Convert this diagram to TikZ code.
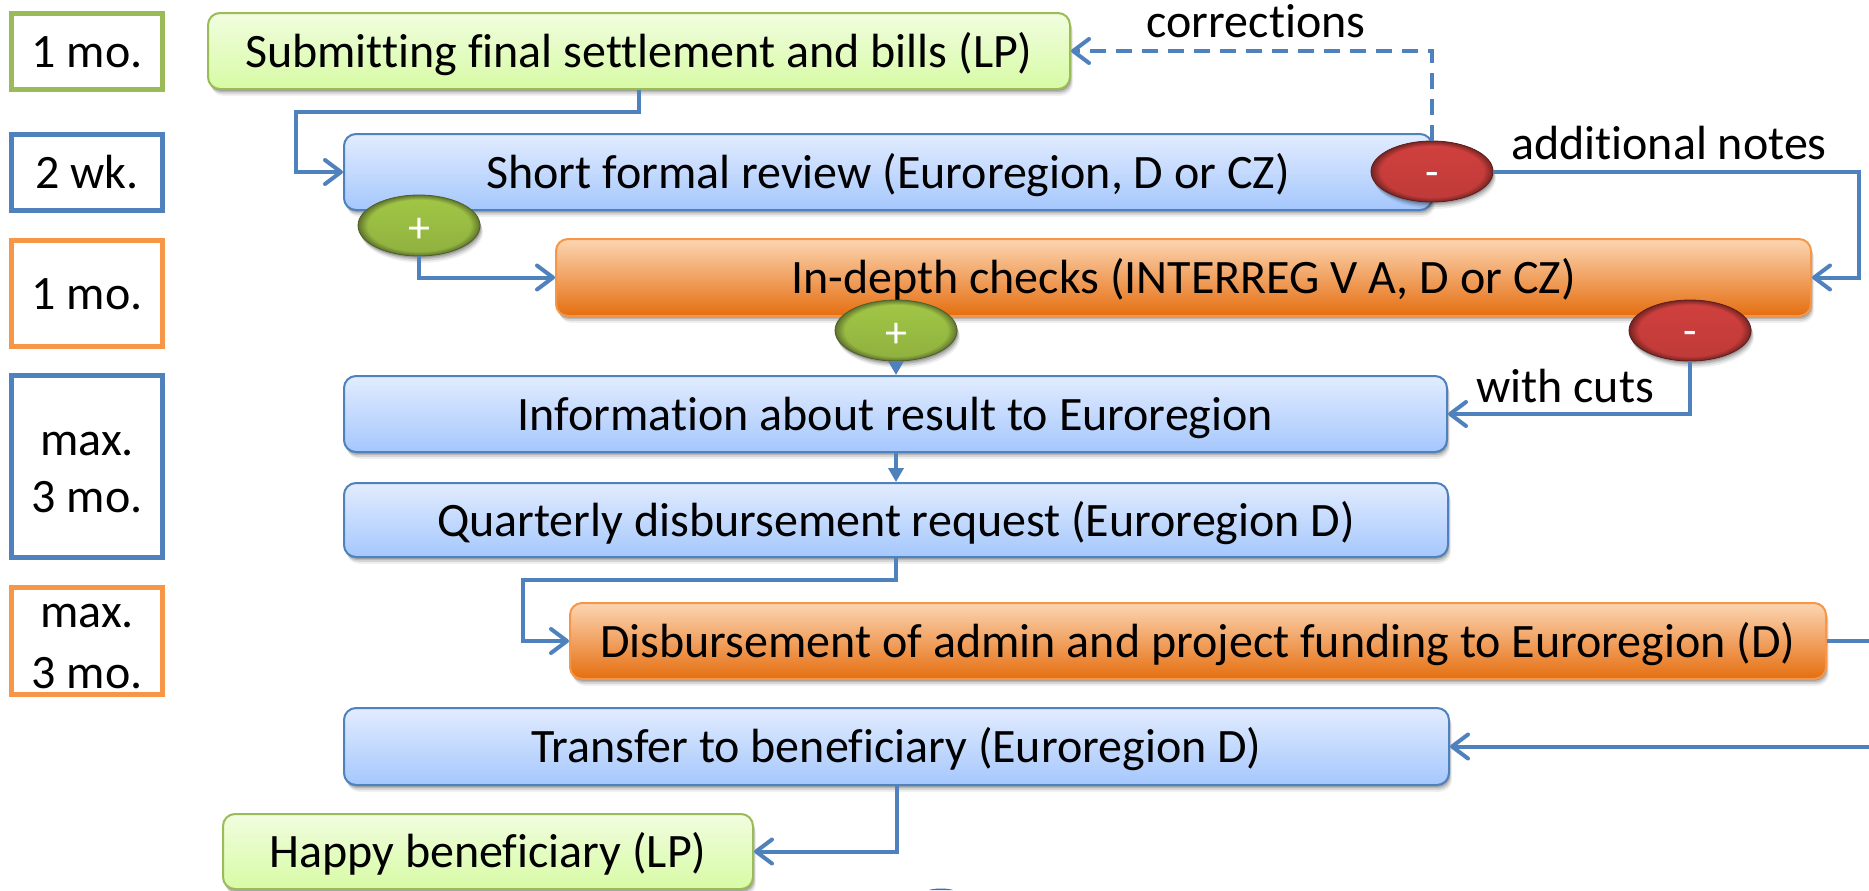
\documentclass[tikz,border=0pt]{standalone}
\usepackage{fontspec}
\setmainfont{Carlito}[Ligatures=NoCommon]
\usetikzlibrary{arrows.meta,shadows,fadings,shapes.geometric,calc}
\definecolor{bluel}{HTML}{4F81BD}
\definecolor{orangel}{HTML}{F79646}
\definecolor{greenl}{HTML}{9BBB59}
\definecolor{gt}{HTML}{F1FDDF}
\definecolor{gb}{HTML}{D7FBA5}
\definecolor{bt}{HTML}{E2ECFE}
\definecolor{bb}{HTML}{A5C7FD}
\definecolor{ot}{HTML}{FCD5B2}
\definecolor{ob}{HTML}{E56E10}
\definecolor{gr}{HTML}{4F5F28}
\definecolor{rr}{HTML}{5E1E1C}
\definecolor{ga}{HTML}{82A035}
\definecolor{gc}{HTML}{8FB03F}
\definecolor{gd}{HTML}{A0C545}
\definecolor{ge}{HTML}{B4D65C}
\definecolor{gf}{HTML}{C6E07A}
\definecolor{ra}{HTML}{AC3533}
\definecolor{rc}{HTML}{BE3A38}
\definecolor{rd}{HTML}{CF403E}
\definecolor{re}{HTML}{DB5654}
\definecolor{rf}{HTML}{E87A78}
\definecolor{arcblue}{HTML}{2E75B6}
\pgfdeclareverticalshading{greenball}{100bp}{color(0bp)=(ga);color(25bp)=(gc);color(70bp)=(gd);color(92bp)=(ge);color(100bp)=(gf)}
\pgfdeclareverticalshading{redball}{100bp}{color(0bp)=(ra);color(25bp)=(rc);color(70bp)=(rd);color(92bp)=(re);color(100bp)=(rf)}
\pgfdeclareradialshading{rimshade}{\pgfpointorigin}{color(0bp)=(black);color(21bp)=(black);color(25bp)=(white!80!black);color(50bp)=(white!80!black)}
\pgfdeclarefading{rimfade}{\pgfuseshading{rimshade}}
\tikzset{
  softshadow/.style={
    general shadow={shadow xshift=.3pt,shadow yshift=-.8pt,fill=black,opacity=.16},
    general shadow={shadow xshift=.7pt,shadow yshift=-1.6pt,fill=black,opacity=.14},
    general shadow={shadow xshift=1.1pt,shadow yshift=-2.5pt,fill=black,opacity=.10},
    general shadow={shadow xshift=1.5pt,shadow yshift=-3.4pt,fill=black,opacity=.06}},
  txt/.style={font=\fontsize{24}{29.5}\selectfont,text=black,inner sep=0pt},
  oneline/.style={text height=16pt,text depth=0pt},
  stepbox/.style={txt,oneline,rounded corners=6pt,line width=1pt,softshadow},
  greenbox/.style={stepbox,draw=greenl,top color=gt,bottom color=gb},
  bluebox/.style={stepbox,draw=bluel,top color=bt,bottom color=bb},
  orangebox/.style={stepbox,draw=orangel,top color=ot,bottom color=ob},
  timebox/.style={txt,draw,fill=white,line width=2.5pt,minimum width=75.5pt,align=center},
  ballshape/.style={ellipse,minimum width=61pt,minimum height=30.5pt,inner sep=0pt,text=white,
    font=\fontsize{22}{24}\selectfont,softshadow},
  plusball/.style={ballshape,draw=gr,line width=.4pt,shading=greenball,
    postaction={fill=gr,path fading=rimfade,fit fading=true}},
  minusball/.style={ballshape,draw=rr,line width=.4pt,shading=redball,
    postaction={fill=rr,path fading=rimfade,fit fading=true}},
  conn/.style={draw=bluel,line width=2pt,line join=miter},
  arr/.style={conn,-{Straight Barb[length=8pt,width=12pt,line width=2pt,round]}},
  tri/.style={conn,-{Triangle[length=7pt,width=7.5pt]}},
  lab/.style={txt,oneline},
}
\newcommand{\plusmark}{\smash{\raisebox{-8.3pt}{+}}}
\newcommand{\minusmark}{\smash{\raisebox{-7.7pt}{-}}}
\begin{document}
\begin{tikzpicture}[x=0.5pt,y=-0.5pt]
\useasboundingbox[fill=white] (0,0) rectangle (1869,890);
% time boxes
\node[timebox,oneline,draw=greenl,minimum height=38pt] (t1) at (87,51.5) {1 mo.};
\node[timebox,oneline,draw=bluel,minimum height=38pt] (t2) at (87,172) {2 wk.};
\node[timebox,oneline,draw=orangel,minimum height=53pt] (t3) at (87,293) {1 mo.};
\node[timebox,draw=bluel,minimum height=91pt,font=\fontsize{24}{28.5}\selectfont,text height=46pt,text depth=0pt] (t4) at (87,466.5) {max.\\3 mo.};
\node[timebox,draw=orangel,minimum height=53.5pt,font=\fontsize{24}{30.5}\selectfont,text height=47pt,text depth=0pt] (t5) at (87,641) {max.\\3 mo.};
% step boxes
\node[greenbox,minimum width=431pt,minimum height=38pt] (submit) at (639,51) {Submitting final settlement and bills (LP)};
\node[bluebox,minimum width=544pt,minimum height=38pt] (review) at (888,172) {Short formal review (Euroregion, D or CZ)};
\node[orangebox,minimum width=627.5pt,minimum height=38.5pt] (depth) at (1183.5,277.5) {In-depth checks (INTERREG V A, D or CZ)\hspace{17pt}};
\node[bluebox,minimum width=551.5pt,minimum height=38pt] (info) at (895.5,414) {Information about result to Euroregion};
\node[bluebox,minimum width=552pt,minimum height=37pt] (quarter) at (896,520) {Quarterly disbursement request (Euroregion D)};
\node[orangebox,minimum width=628pt,minimum height=38pt] (disb) at (1198,641) {Disbursement of admin and project funding to Euroregion (D)};
\node[bluebox,minimum width=552.5pt,minimum height=38.5pt] (transfer) at (896.5,746.5) {Transfer to beneficiary (Euroregion D)};
\node[greenbox,minimum width=265pt,minimum height=37.5pt] (happy) at (488,851.5) {Happy beneficiary (LP)};
% free ends and corners
\coordinate (outA) at (1869,641);
\coordinate (outB) at (1869,746.5);
% connectors
\draw[arr] (submit.south) |- (296,112) |- (review.west);
\draw[arr] (quarter.south) |- (523,580) |- (disb.west);
\draw[arr] (transfer.south) |- (happy.east);
\draw[tri] (info.south -| quarter.north) -- (quarter.north);
\draw[conn] (disb.east) -- (outA);
\draw[arr] (outB) -- (transfer.east);
% balls
\node[plusball] (p1) at (419,225.5) {\plusmark};
\node[minusball] (m1) at (1432,171.5) {\minusmark};
\node[plusball] (p2) at (896,330.5) {\plusmark};
\node[minusball] (m2) at (1690,330.5) {\minusmark};
\draw[arr] (p1.south) |- (depth.west);
\draw[tri] (p2.south) -- (p2.south |- info.north);
\draw[arr,dash pattern=on 8pt off 5pt] (m1.north) |- (submit.east);
\draw[arr] (m1.east) -| (1859,240) |- (depth.east);
\draw[arr] (m2.south) |- (info.east);
% labels
\node[lab] (lc) at (1256,21) {corrections};
\node[lab] (ln) at (1669,143.5) {additional notes};
\node[lab] (lw) at (1565,386) {with cuts};
% fragment at the lower edge
\fill[arcblue] (929,890) .. controls (935,888) and (947,888) .. (953,890) -- cycle;
\end{tikzpicture}
\end{document}
